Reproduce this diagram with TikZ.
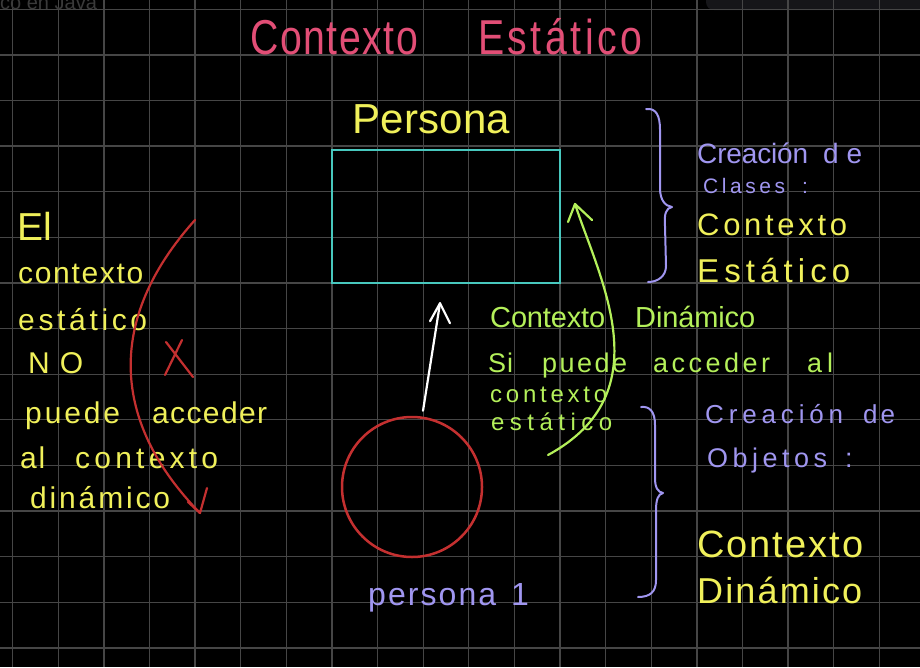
\documentclass[tikz,border=0pt]{standalone}
\usepackage{fontspec}
\setmainfont{Liberation Sans}
\usetikzlibrary{arrows.meta,calc}
\definecolor{gridc}{RGB}{70,70,70}
\definecolor{barc}{RGB}{22,22,25}
\definecolor{fadec}{RGB}{58,58,58}
\definecolor{pinkc}{RGB}{226,78,118}
\definecolor{yel}{RGB}{240,240,90}
\definecolor{cyanc}{RGB}{72,200,190}
\definecolor{redc}{RGB}{196,48,48}
\definecolor{lav}{RGB}{160,150,240}
\definecolor{grn}{RGB}{180,240,90}
\makeatletter
\newcommand\fitw[3]{{\setbox0\hbox{#3}%
  \pgfmathsetmacro\lsp{100*((#1)-\the\wd0)/(#2)/\f@size}%
  \makebox[#1pt][l]{\addfontfeature{LetterSpace=\lsp}#3}}}
\makeatother
\begin{document}
\begin{tikzpicture}[x=1pt,y=-1pt,
  txt/.style={inner sep=0pt, anchor=base west},
  gridline/.style={draw=gridc, line width=1.3pt},
  wline/.style={draw=white, line width=2.2pt, line cap=round, line join=round},
  rline/.style={draw=redc, line width=2.2pt, line cap=round, line join=round},
  gline/.style={draw=grn, line width=2.2pt, line cap=round, line join=round},
  brace/.style={draw=lav, line width=2pt, line cap=round, line join=round}]
\fill[black] (0,0) rectangle (920,667);
\useasboundingbox (0,0) rectangle (920,667);
\fill[barc, rounded corners=8pt] (706,-12) rectangle (935,10);
\foreach \i in {0,...,19} \draw[gridline] ({12.7+45.61*\i},0) -- ++(0,667);
\foreach \j in {0,...,14} \draw[gridline] (0,{9.3+45.61*\j}) -- ++(920,0);
\node[txt, text=fadec, font=\fontsize{20}{20}\selectfont] (wm) at (0,9) {co en Java};
% title
\node[txt, text=pinkc, font=\fontsize{49}{49}\selectfont] (title) at (250,54)
  {\scalebox{0.8}[1]{\fitw{210}{7}{Contexto}\kern75pt\fitw{205}{7}{Estático}}};
% class box and object
\node[txt, text=yel, font=\fontsize{42}{42}\selectfont] (clsname) at (352,133) {\fitw{158}{6}{Persona}};
\node[draw=cyanc, line width=2.5pt, minimum width=228pt, minimum height=133pt, inner sep=0pt] (cls) at (446,216.5) {};
\node[draw=redc, line width=2.5pt, circle, minimum size=140pt, inner sep=0pt] (obj) at (412,487) {};
\node[txt, text=lav, font=\fontsize{32}{32}\selectfont] (objname) at (368,605) {\fitw{128}{6}{persona}\kern15pt 1};
\draw[wline] ([shift={(11,-5)}]obj.north) coordinate (wa) -- ([shift={(-6,19)}]cls.south) coordinate (wb);
\draw[wline] ([shift={(-10,18)}]wb) -- (wb) -- ([shift={(10,20)}]wb);
% left text
\begin{scope}[every node/.style={txt, text=yel, font=\fontsize{30}{30}\selectfont}]
\node[font=\fontsize{39}{39}\selectfont] (l1) at (17,240) {El};
\node (l2) at (18,283) {\fitw{125}{7}{contexto}};
\node (l3) at (18,330) {\fitw{129}{7}{estático}};
\node (l4) at (28,373) {\fitw{55}{1}{NO}};
\node (l5) at (25,423) {\fitw{95}{4}{puede}\kern32pt\fitw{115}{6}{acceder}};
\node (l6) at (20,468) {\fitw{25}{1}{al}\kern30pt\fitw{143}{7}{contexto}};
\node (l7) at (30,508) {\fitw{140}{7}{dinámico}};
\end{scope}
% red arrow and cross
\coordinate (rs) at (195,220);
\coordinate (re) at (200,513);
\draw[rline] (rs) .. controls (105,320) and (112,423) .. (re);
\draw[rline] ([shift={(-12,-11)}]re) -- (re) -- ([shift={(7,-25)}]re);
\draw[rline] (166,342) -- (193,377) (182,340) -- (165,375);
% green text and arrow
\begin{scope}[every node/.style={txt, text=grn}]
\node[font=\fontsize{29}{29}\selectfont] (g1) at (490,327) {\fitw{115}{7}{Contexto}\kern30pt\fitw{120}{7}{Dinámico}};
\node[font=\fontsize{27}{27}\selectfont] (g2) at (488,372) {\fitw{25}{1}{Si}\kern29pt\fitw{85}{4}{puede}\kern26pt\fitw{117}{6}{acceder}\kern37pt\fitw{26}{1}{al}};
\node[font=\fontsize{24}{24}\selectfont] (g3) at (490,402) {\fitw{117}{7}{contexto}};
\node[font=\fontsize{24}{24}\selectfont] (g4) at (491,430) {\fitw{121}{7}{estático}};
\end{scope}
\coordinate (gs) at (548,455);
\coordinate (ge) at (575,204);
\draw[gline] (gs) .. controls (662,393) and (600,280) .. (ge);
\draw[gline] ([shift={(-7,18)}]ge) -- (ge) -- ([shift={(17,16)}]ge);
% braces
\draw[brace] (646,109) .. controls (656,108) and (660,115) .. (660,130) -- (660,188)
  .. controls (660,200) and (665,206) .. (672,207)
  .. controls (666,208) and (664,214) .. (665,226) -- (666,266)
  .. controls (666,276) and (658,282) .. (648,282);
\draw[brace] (641,407) .. controls (650,406) and (655,412) .. (655,425) -- (655,478)
  .. controls (655,488) and (658,492) .. (663,493)
  .. controls (658,494) and (656,500) .. (656,510) -- (656,580)
  .. controls (656,592) and (650,597) .. (638,597);
% right texts
\node[txt, text=lav, font=\fontsize{28}{28}\selectfont] (r1) at (697,163) {\fitw{111}{7}{Creación}\kern15pt\fitw{39}{1}{de}};
\node[txt, text=lav, font=\fontsize{21}{21}\selectfont] (r2) at (703,193) {\fitw{82}{5}{Clases}\kern17pt :};
\node[txt, text=yel, font=\fontsize{31}{31}\selectfont] (r3) at (697,235) {\fitw{150}{7}{Contexto}};
\node[txt, text=yel, font=\fontsize{33}{33}\selectfont] (r4) at (697,282) {\fitw{153}{7}{Estático}};
\node[txt, text=lav, font=\fontsize{26}{26}\selectfont] (r5) at (705,423) {\fitw{138}{7}{Creación}\kern20pt\fitw{32}{1}{de}};
\node[txt, text=lav, font=\fontsize{27}{27}\selectfont] (r6) at (707,467) {\fitw{120}{6}{Objetos}\kern18pt :};
\node[txt, text=yel, font=\fontsize{38}{38}\selectfont] (r7) at (697,557) {\fitw{166}{7}{Contexto}};
\node[txt, text=yel, font=\fontsize{36}{36}\selectfont] (r8) at (697,603) {\fitw{165}{7}{Dinámico}};
\end{tikzpicture}
\end{document}
